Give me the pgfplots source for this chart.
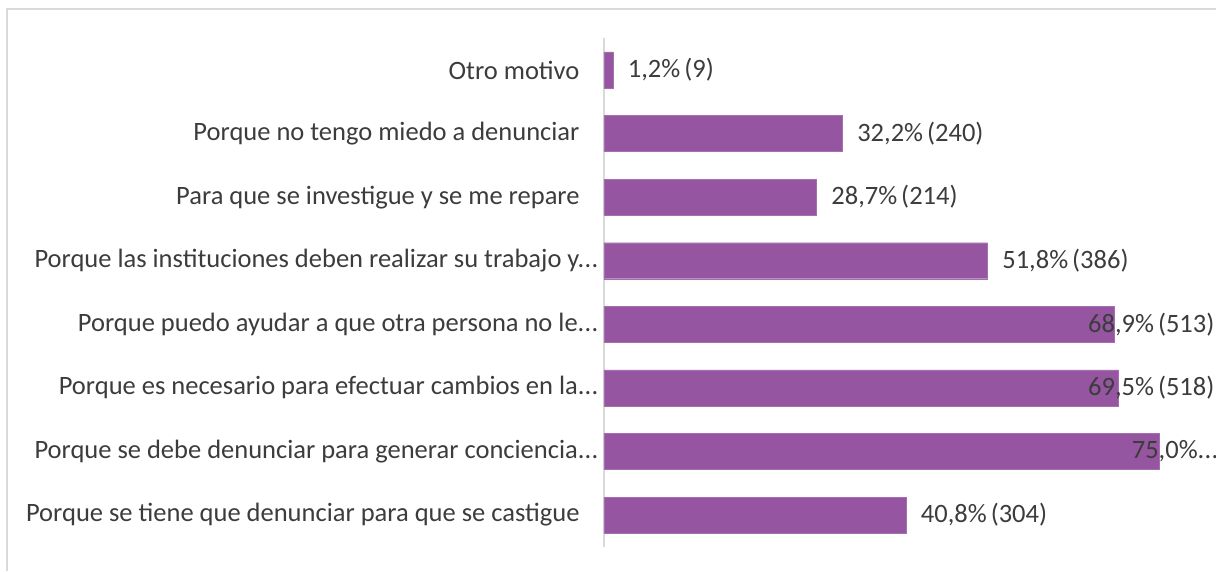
\documentclass[border=0pt]{standalone}
\usepackage{pgfplots}
\pgfplotsset{compat=1.18}
\usepackage{pgfplotstable}
\usepackage{fontspec}
\setmainfont{Carlito}
\definecolor{barc}{RGB}{149,85,160}
\definecolor{txt}{RGB}{60,60,60}
\definecolor{gridc}{RGB}{217,217,217}
\newcommand{\el}{.\kern0.3pt.\kern0.3pt.}
\pgfplotstableread[col sep=semicolon]{
y;v;lx;lab
0;40.8;42.8;{40,8\%\kern-2pt{} (304)}
1;75.0;71.3;{75,0\%\el}
2;69.5;65.4;{69,5\%\kern-2pt{} (518)}
3;68.9;65.4;{68,9\%\kern-2pt{} (513)}
4;51.8;53.8;{51,8\%\kern-2pt{} (386)}
5;28.7;30.7;{28,7\%\kern-2pt{} (214)}
6;32.2;34.2;{32,2\%\kern-2pt{} (240)}
7;1.2;3.2;{1,2\%\kern-2pt{} (9)}
}\data
\begin{document}
\begin{tikzpicture}
\useasboundingbox (0,0) rectangle (1216pt,571pt);
\draw[gridc, line width=1.5pt] (7pt,0) -- (7pt,562pt) -- (1216pt,562pt);
\begin{axis}[
  at={(604pt,24.2pt)}, anchor=south west,
  scale only axis, width=740pt, height=508.6pt,
  xmin=0, xmax=100, ymin=-0.5, ymax=7.5,
  axis x line=none, axis y line*=left,
  y axis line style={draw=gridc, line width=1.2pt, -},
  major tick length=0pt,
  ytick={0,1,2,3,4,5,6,7},
  yticklabels={
    {Porque se tiene que denunciar para que se castigue\kern21pt},
    {Porque se debe denunciar para generar conciencia\el\kern2pt},
    {Porque es necesario para efectuar cambios en la\el\kern2pt},
    {Porque puedo ayudar a que otra persona no le\el\kern2pt},
    {Porque las instituciones deben realizar su trabajo y\el\kern2pt},
    {Para que se investigue y se me repare\kern21pt},
    {Porque no tengo miedo a denunciar\kern21pt},
    {Otro motivo\kern21pt}},
  yticklabel style={font=\fontsize{26.5}{31}\selectfont, text=txt, anchor=east},
  clip=false,
]
\addplot[xbar, bar width=36pt, fill=barc, draw=barc!85!white] table[x=v,y=y]{\data};
\addplot[draw=none, mark=none, point meta=explicit symbolic,
  nodes near coords, nodes near coords align=horizontal,
  every node near coord/.append style={anchor=west, inner sep=0pt,
    font=\fontsize{26.5}{31}\selectfont, text=txt}]
  table[x=lx,y=y,meta=lab]{\data};
\end{axis}
\end{tikzpicture}
\end{document}
